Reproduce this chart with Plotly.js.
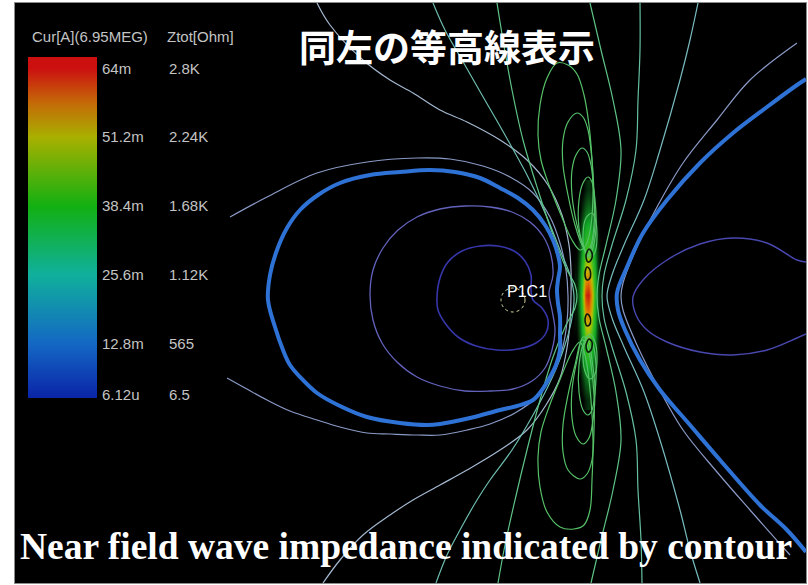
<!DOCTYPE html>
<html><head><meta charset="utf-8">
<script src="https://cdn.plot.ly/plotly-3.0.1.min.js"></script>
<style>html,body{margin:0;padding:0;background:#fff;}#chart{width:808px;height:585px;}</style>
</head><body><div id="chart"></div>
<script>
// ---- colour bar (current, mA) ----
var cbTickVals = [0.00612, 12.8, 25.6, 38.4, 51.2, 64];
var curLabels = ["6.12u", "12.8m", "25.6m", "38.4m", "51.2m", "64m"];
var ztotLabels = ["6.5", "565", "1.12K", "1.68K", "2.24K", "2.8K"];
var cbRange = [2.56, 66.05];

// ---- current band on the conductor (mA), picture units ----
var bandX = [576, 579, 582, 585, 588, 591, 594, 597, 600];
var bandY = [190, 210, 230, 250, 265, 280, 295, 310, 325, 340, 360, 380, 400];
var bandZ = [
  [0, 0, 0, 5, 8, 5, 0, 0, 0],
  [0, 0, 8, 15, 18, 15, 8, 0, 0],
  [0, 6, 18, 28, 30, 26, 14, 4, 0],
  [0, 10, 26, 38, 40, 36, 24, 8, 0],
  [2, 14, 32, 46, 48, 42, 30, 10, 0],
  [4, 18, 38, 54, 56, 48, 34, 12, 2],
  [5, 20, 42, 62, 64, 54, 36, 14, 3],
  [4, 18, 38, 56, 58, 50, 34, 12, 2],
  [2, 14, 32, 48, 50, 44, 30, 10, 0],
  [0, 10, 26, 40, 42, 36, 24, 8, 0],
  [0, 6, 18, 30, 32, 28, 16, 4, 0],
  [0, 0, 8, 16, 18, 16, 8, 0, 0],
  [0, 0, 0, 5, 8, 5, 0, 0, 0]
];

// ---- Ztot contour lines ----
var a1X = [437,440,448,462,480,498,514,525,531,531,533,542,548,546,536,518,497,476,458,445,438,437];
var a1Y = [297,278,262,251,246,246,251,261,275,290,300,308,320,333,343,349,350,346,337,323,310,297];

var a2X = [370,373,383,398,417,440,465,490,512,530,543,551,553,549,552,555,552,545,532,513,490,465,440,417,397,382,373,370];
var a2Y = [295,270,248,230,217,209,206,207,212,222,236,255,275,293,310,330,350,368,381,389,391,391,386,377,362,343,320,295];

var cX = [268,270,277,287,300,318,340,370,400,430,455,480,500,518,533,545,553,558,560,558,557,558,560,560,560,556,550,542,533,517,500,470,440,427,400,367,340,317,300,290,283,275,268];
var cY = [300,275,250,228,210,195,183,175,172,170,172,178,188,198,210,225,240,255,267,280,290,303,317,335,350,365,377,390,400,406,410,418,424,425,423,417,406,393,377,365,350,327,300];

var d1X = [230,267,317,367,417,450,483,510,533,550,560,566,568,567,562,552,537,515,490,467,440,417,390,367,340,317,290,267,245,227];
var d1Y = [217,197,173,162,158,159,166,177,193,217,243,270,296,322,350,375,397,413,424,430,435,435,434,433,427,420,411,400,388,378];

var f1X = [317,330,363,390,413,440,467,500,527,548,562,569,571,571,570,567,560,546,527,500,467,440,413,390,363,340,323];
var f1Y = [3,25,60,80,93,110,122,140,160,185,215,245,270,296,322,348,378,405,430,450,470,485,500,515,535,560,583];

var l3X = [433,445,462,482,505,527,546,560,570,574,572,565,552,533,512,490,477,460,447,436];
var l3Y = [3,30,60,95,135,175,215,250,275,296,318,345,378,415,450,480,500,530,555,583];

var l4X = [497,503,512,523,538,553,566,575,577,575,566,553,540,527,515,505,498];
var l4Y = [3,40,90,140,190,235,268,285,296,308,325,357,400,450,500,545,583];

var r1X = [590,601,613,621,616,606,599,597,599,606,616,621,613,601,591];
var r1Y = [3,50,100,150,200,245,275,296,318,347,392,440,490,540,583];

var r2X = [640,640,638,636,626,612,604,602,604,612,626,636,638,641,642];
var r2Y = [3,50,100,150,200,245,275,296,318,347,392,440,490,540,583];

var r3X = [698,690,680,660,644,624,612,607,612,624,644,660,680,690,700];
var r3Y = [3,40,80,150,200,245,275,296,318,347,392,440,510,550,583];

var d2X = [797,750,717,683,657,637,623,621,623,637,657,683,717,750,790];
var d2Y = [43,80,120,163,207,247,283,296,310,345,385,430,472,510,555];

var c2X = [806,797,767,733,700,667,643,627,617,618,625,640,660,690,720,760,787,806];
var c2Y = [79,85,107,133,163,200,233,267,293,310,330,360,390,425,460,505,530,552];

var eX = [806,797,767,733,700,667,643,633,636,647,667,700,733,767,797,806];
var eY = [262,260,243,238,244,260,280,297,315,330,342,352,355,350,338,334];

var o1X = [557,568,577,584,589,592,593,591,586,580,572,561,549,541,538,540,547,557];
var o1Y = [63,65,74,95,125,160,195,225,245,250,240,215,185,160,135,105,78,63];
var o2X = [577,583,588,592,594,594,591,587,582,575,568,563,563,568,577];
var o2Y = [113,117,130,160,195,225,245,252,245,225,195,165,140,122,113];
var o3X = [582,587,591,594,595,592,588,583,577,572,572,576,582];
var o3Y = [148,152,165,195,225,245,255,245,225,195,170,155,148];
var o4X = [588,592,595,596,593,589,584,579,579,583,588];
var o4Y = [177,182,200,228,248,256,248,228,200,183,177];
var o5X = [592,595,597,595,590,585,583,586,592];
var o5Y = [213,218,235,252,258,252,235,218,213];

var u1X = [574,584,590,592,593,591,586,580,572,561,549,541,538,540,547,560,574];
var u1Y = [529,525,510,480,440,400,360,342,352,377,407,432,457,487,512,527,529];
var u2X = [580,587,592,594,594,591,587,582,575,568,563,563,568,580];
var u2Y = [479,474,460,430,395,365,345,340,365,395,425,452,470,479];
var u3X = [583,589,593,595,592,588,583,577,572,572,576,583];
var u3Y = [444,438,420,390,360,340,337,360,390,418,436,444];
var u4X = [588,592,595,596,593,588,583,579,579,583,588];
var u4Y = [415,410,392,365,345,336,345,365,392,410,415];
var u5X = [590,595,597,595,590,585,583,586,590];
var u5Y = [379,374,357,342,334,342,357,374,379];

// tiny innermost loops drawn dark inside the current band
var k1X = [589,592,591,588,586,589];
var k1Y = [249,253,260,262,256,249];
var k2X = [587,590,590,587,585,587];
var k2Y = [267,270,278,280,274,267];
var k3X = [587,590,590,587,585,587];
var k3Y = [314,317,324,326,320,314];
var k4X = [589,592,591,588,586,589];
var k4Y = [339,342,350,352,346,339];

var probe = {x: 513, y: 300, r: 12, name: "P1C1"};

function ln(xs, ys, color, w) {
  return {type: "scatter", mode: "lines", x: xs, y: ys, xaxis: "x", yaxis: "y",
    line: {color: color, width: w, shape: "spline", smoothing: 1}, hoverinfo: "skip", showlegend: false};
}

var traces = [];
traces.push({type: "heatmap", x: bandX, y: bandY, z: bandZ, xaxis: "x", yaxis: "y",
  zmin: 0, zmax: 64, zsmooth: "best", showscale: false, hoverinfo: "skip",
  colorscale: [[0, "#000000"], [0.15, "#083c10"], [0.4, "#12a828"], [0.6, "#3cc020"], [0.75, "#c0c000"], [0.88, "#e07800"], [1, "#c81810"]]});

traces.push(ln(d1X, d1Y, "#8a9ac6", 1.2));
traces.push(ln(f1X, f1Y, "#a4b8d0", 1.2));
traces.push(ln(l3X, l3Y, "#6cbcae", 1.2));
traces.push(ln(l4X, l4Y, "#5ec486", 1.2));
traces.push(ln(r1X, r1Y, "#5ec486", 1.2));
traces.push(ln(r2X, r2Y, "#66c0a0", 1.2));
traces.push(ln(r3X, r3Y, "#78bcc0", 1.2));
traces.push(ln(d2X, d2Y, "#8a9ac6", 1.2));
traces.push(ln(a2X, a2Y, "#6262bc", 1.3));
traces.push(ln(a1X, a1Y, "#3636aa", 1.6));
traces.push(ln(eX, eY, "#4848b0", 1.4));
traces.push(ln(cX, cY, "#2e72d6", 4));
traces.push(ln(c2X, c2Y, "#2e72d6", 4));
[[o1X,o1Y],[o2X,o2Y],[o3X,o3Y],[o4X,o4Y],[o5X,o5Y],[u1X,u1Y],[u2X,u2Y],[u3X,u3Y],[u4X,u4Y],[u5X,u5Y]].forEach(function (p) {
  traces.push(ln(p[0], p[1], "#56c268", 1.2));
});
[[k1X,k1Y],[k2X,k2Y],[k3X,k3Y],[k4X,k4Y]].forEach(function (p) {
  traces.push(ln(p[0], p[1], "#0c180c", 1.6));
});

// colour bar
traces.push({type: "heatmap", x: [0], y: cbTickVals, z: cbTickVals.map(function (v) { return [v]; }),
  xaxis: "x2", yaxis: "y2", zmin: 0, zmax: 64, zsmooth: "best", showscale: false, hoverinfo: "skip",
  colorscale: [[0, "#0812a0"], [0.2, "#1468c4"], [0.4, "#10b09c"], [0.6, "#12b012"], [0.8, "#a8b000"], [0.9, "#c46a08"], [1, "#cc1010"]]});

var W = 808, H = 585;
var ann = [];
var lblFont = {family: "Liberation Sans, Arial, sans-serif", size: 15, color: "#c4c4c4"};
ann.push({xref: "paper", yref: "paper", x: 30 / W, y: 1 - 36 / H, xanchor: "left", yanchor: "middle", text: "Cur[A](6.95MEG)", showarrow: false, font: lblFont});
ann.push({xref: "paper", yref: "paper", x: 165 / W, y: 1 - 36 / H, xanchor: "left", yanchor: "middle", text: "Ztot[Ohm]", showarrow: false, font: lblFont});
for (var i = 0; i < cbTickVals.length; i++) {
  var yv = Math.max(cbTickVals[i], cbRange[0] + 0.6);
  ann.push({xref: "paper", yref: "y2", x: 100 / W, y: yv, xanchor: "left", yanchor: "middle", text: curLabels[i], showarrow: false, font: lblFont});
  ann.push({xref: "paper", yref: "y2", x: 167 / W, y: yv, xanchor: "left", yanchor: "middle", text: ztotLabels[i], showarrow: false, font: lblFont});
}
ann.push({xref: "x", yref: "y", x: probe.x + 14, y: probe.y - 9, xanchor: "center", yanchor: "middle", text: probe.name, showarrow: false,
  font: {family: "Liberation Sans, Arial, sans-serif", size: 16, color: "#ffffff"}});
ann.push({xref: "paper", yref: "paper", x: 447 / W, y: 1 - 46 / H, xanchor: "center", yanchor: "middle", text: "<b>同左の等高線表示</b>", showarrow: false,
  font: {family: "Noto Sans CJK JP, sans-serif", size: 37, color: "#ffffff"}});
ann.push({xref: "paper", yref: "paper", x: 406 / W, y: 1 - 546 / H, xanchor: "center", yanchor: "middle", text: "<b>Near field wave impedance indicated by contour</b>", showarrow: false,
  font: {family: "Liberation Serif, Times New Roman, serif", size: 37.5, color: "#ffffff"}});

var layout = {
  width: W, height: H, margin: {l: 0, r: 0, t: 0, b: 0},
  paper_bgcolor: "#ffffff", plot_bgcolor: "#000000", showlegend: false,
  xaxis: {domain: [15 / W, 806 / W], range: [15, 806], showgrid: false, zeroline: false, showticklabels: false, ticks: "",
    showline: true, mirror: true, linecolor: "#8c8c8c", linewidth: 1},
  yaxis: {domain: [2 / H, 582 / H], range: [583, 3], showgrid: false, zeroline: false, showticklabels: false, ticks: "",
    showline: true, mirror: true, linecolor: "#8c8c8c", linewidth: 1},
  xaxis2: {domain: [28 / W, 97 / W], range: [-0.5, 0.5], visible: false, anchor: "y2"},
  yaxis2: {domain: [(H - 398) / H, (H - 57) / H], range: cbRange, visible: false, anchor: "x2"},
  annotations: ann,
  shapes: [{type: "circle", xref: "x", yref: "y", x0: probe.x - probe.r, x1: probe.x + probe.r, y0: probe.y - probe.r, y1: probe.y + probe.r,
    line: {color: "#d8d8a0", width: 1, dash: "dot"}}]
};
Plotly.newPlot("chart", traces, layout, {staticPlot: true, displayModeBar: false});
</script></body></html>
